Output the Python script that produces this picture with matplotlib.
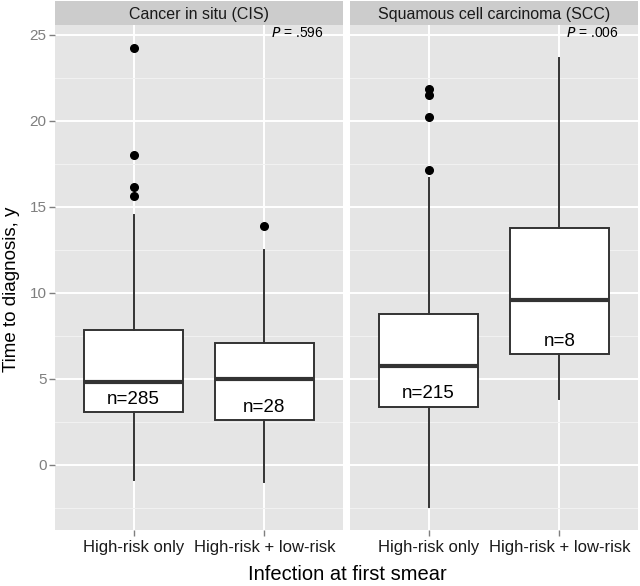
import matplotlib
matplotlib.use("Agg")
import matplotlib.pyplot as plt
from matplotlib.ticker import MultipleLocator, FixedLocator

plt.rcParams['font.family'] = ['Liberation Sans', 'DejaVu Sans']

# ---------------- data ----------------
panels = ["Cancer in situ (CIS)", "Squamous cell carcinoma (SCC)"]
categories = ["High-risk only", "High-risk + low-risk"]

# per panel, per category: whisker low, Q1, median, Q3, whisker high
whislo = [[-0.87, -1.0], [-2.42, 3.84]]
q1 = [[3.06, 2.62], [3.35, 6.43]]
med = [[4.84, 5.0], [5.77, 9.59]]
q3 = [[7.85, 7.07], [8.78, 13.80]]
whishi = [[14.53, 12.5], [16.69, 23.64]]
outliers = [[[24.23, 18.02, 16.16, 15.64], [13.91]],
            [[21.86, 21.51, 20.21, 17.17], []]]

n_labels = [["n=285", "n=28"], ["n=215", "n=8"]]
n_label_y = [[3.82, 3.35], [4.17, 7.17]]

p_labels = [".596", ".006"]

yticks = [0, 5, 10, 15, 20, 25]

# ---------------- figure ----------------
W, H = 640, 586
fig = plt.figure(figsize=(W / 100, H / 100), dpi=100)

panel_bg = "#E5E5E5"
strip_bg = "#CCCCCC"
box_col = "#333333"

panel_x = [55, 350]
panel_w = 288
panel_top, panel_bot = 25, 530
ylim = (-3.78, 25.58)

for pi in range(2):
    left = panel_x[pi] / W
    ax = fig.add_axes([left, 1 - panel_bot / H, panel_w / W, (panel_bot - panel_top) / H])
    ax.set_facecolor(panel_bg)
    for s in ax.spines.values():
        s.set_visible(False)

    stats = []
    for ci in range(2):
        stats.append(dict(med=med[pi][ci], q1=q1[pi][ci], q3=q3[pi][ci],
                          whislo=whislo[pi][ci], whishi=whishi[pi][ci],
                          fliers=outliers[pi][ci]))
    ax.bxp(stats, positions=[1, 2], widths=0.75, patch_artist=True,
           showcaps=False, manage_ticks=False,
           boxprops=dict(facecolor="white", edgecolor=box_col, linewidth=1.4),
           whiskerprops=dict(color=box_col, linewidth=1.4),
           medianprops=dict(color=box_col, linewidth=3.0),
           flierprops=dict(marker="o", markerfacecolor="black",
                           markeredgecolor="black", markersize=5.5))

    ax.set_xlim(0.4, 2.6)
    ax.set_ylim(*ylim)
    ax.yaxis.set_major_locator(FixedLocator(yticks))
    ax.yaxis.set_minor_locator(MultipleLocator(2.5))
    ax.xaxis.set_major_locator(FixedLocator([1, 2]))
    ax.grid(which="major", color="white", linewidth=1.4, zorder=0)
    ax.grid(which="minor", axis="y", color="#F2F2F2", linewidth=0.7, zorder=0)
    ax.set_axisbelow(True)

    for ci in range(2):
        ax.text(ci + 1, n_label_y[pi][ci], n_labels[pi][ci], ha="center",
                va="center", fontsize=13.5, color="black", zorder=5)

    ax.text(2.45, 25.1, r"$\it{P}$" + " = " + p_labels[pi], ha="right",
            va="center", fontsize=10, color="black")

    ax.set_xticklabels(categories, fontsize=12, color="#1a1a1a")
    ax.tick_params(axis="both", which="major", length=4, color="#7F7F7F",
                   width=1, pad=2)
    ax.tick_params(axis="x", which="major", pad=3)
    ax.tick_params(axis="both", which="minor", length=0)
    if pi == 0:
        ax.set_yticklabels([str(v) for v in yticks], fontsize=11, color="#7F7F7F")
    else:
        ax.tick_params(axis="y", which="both", left=False, labelleft=False)

    # strip
    sax = fig.add_axes([left, 1 - panel_top / H, panel_w / W, (panel_top - 1) / H])
    sax.set_facecolor(strip_bg)
    sax.set_xticks([])
    sax.set_yticks([])
    for s in sax.spines.values():
        s.set_visible(False)
    sax.text(0.5, 0.45, panels[pi], ha="center", va="center",
             fontsize=11.5, color="#1a1a1a", transform=sax.transAxes)

fig.text(347 / W, 1 - 575 / H, "Infection at first smear", ha="center",
         va="center", fontsize=14.5, color="black")
fig.text(12 / W, 1 - 289 / H, "Time to diagnosis, y", ha="center",
         va="center", rotation=90, fontsize=13.5, color="black")

fig.savefig("out.png", dpi=100, facecolor="white")
